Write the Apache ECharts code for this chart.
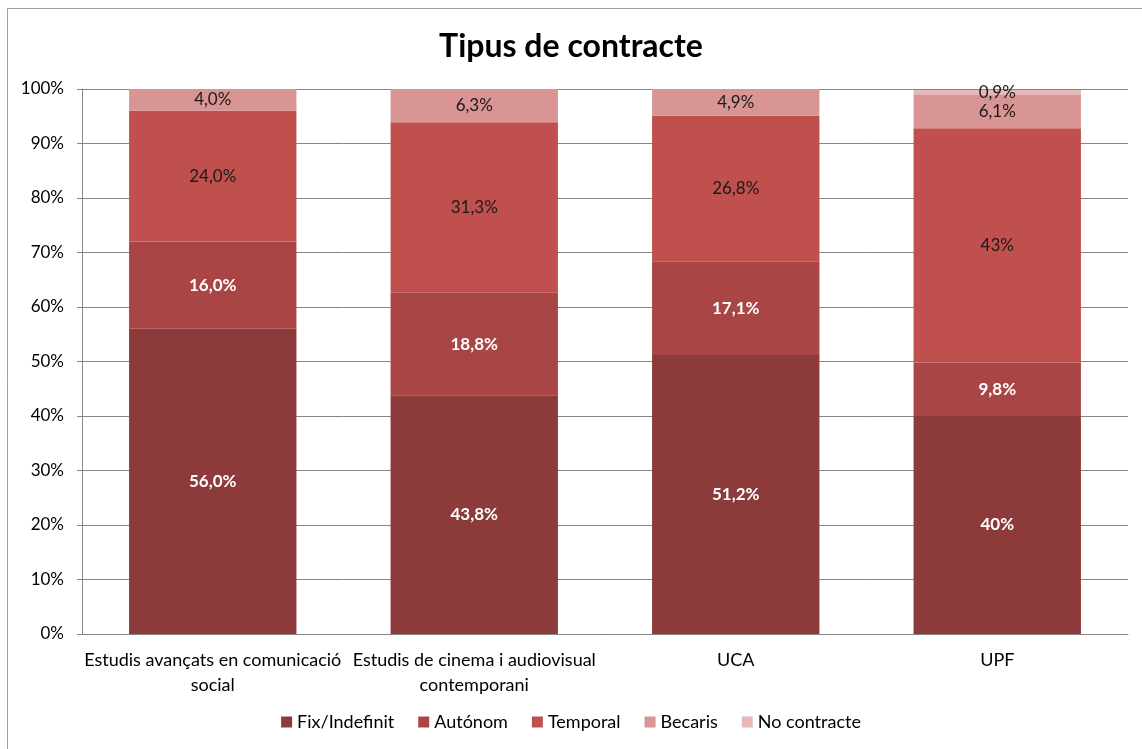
<!DOCTYPE html>
<html>
<head>
<meta charset="utf-8">
<script src="https://cdn.jsdelivr.net/npm/echarts@6/dist/echarts.min.js"></script>
<style>
  html, body { margin: 0; padding: 0; background: #fff; }
  #main { width: 1142px; height: 749px; }
</style>
</head>
<body>
<div id="main"></div>
<script>
// dades del gràfic
var categories = ['Estudis avançats en comunicació\nsocial', 'Estudis de cinema i audiovisual\ncontemporani', 'UCA', 'UPF'];
var seriesNames = ['Fix/Indefinit', 'Autónom', 'Temporal', 'Becaris', 'No contracte'];
var fixValues = [56.0, 43.8, 51.2, 40];
var autonomValues = [16.0, 18.8, 17.1, 9.8];
var temporalValues = [24.0, 31.3, 26.8, 43];
var becarisValues = [4.0, 6.3, 4.9, 6.1];
var noContracteValues = [0, 0, 0, 0.9];
var fixLabels = ['56,0%', '43,8%', '51,2%', '40%'];
var autonomLabels = ['16,0%', '18,8%', '17,1%', '9,8%'];
var temporalLabels = ['24,0%', '31,3%', '26,8%', '43%'];
var becarisLabels = ['4,0%', '6,3%', '4,9%', '6,1%'];
var noContracteLabels = ['', '', '', '0,9%'];
var yTicks = [0, 10, 20, 30, 40, 50, 60, 70, 80, 90, 100];

var font = 'Lato, "Open Sans", sans-serif';
var colors = ['#8C3A3A', '#A94545', '#C0504D', '#D99594', '#E6B9B8'];

function serie(idx, values, labels, labelColor, bold) {
    return {
        name: seriesNames[idx],
        type: 'bar',
        stack: 'total',
        barCategoryGap: '36%',
        data: values,
        itemStyle: { color: colors[idx] },
        label: {
            show: true,
            position: 'inside',
            color: labelColor,
            fontFamily: font,
            fontSize: 17,
            fontWeight: bold ? 'bold' : 'normal',
            formatter: function (p) { return labels[p.dataIndex]; }
        }
    };
}

var myChart = echarts.init(document.getElementById('main'));

var option = {
    animation: false,
    title: {
        text: 'Tipus de contracte',
        left: 'center',
        top: 26,
        textStyle: { fontFamily: font, fontSize: 32, fontWeight: 'bold', color: '#000' }
    },
    legend: {
        data: seriesNames,
        bottom: 13,
        left: 'center',
        icon: 'rect',
        itemWidth: 11,
        itemHeight: 11,
        itemGap: 24,
        textStyle: { fontFamily: font, fontSize: 18, color: '#000' }
    },
    grid: { left: 82, right: 14, top: 89, bottom: 115 },
    xAxis: {
        type: 'category',
        data: categories,
        axisLine: { lineStyle: { color: '#868686' } },
        axisTick: { show: false },
        axisLabel: { fontFamily: font, fontSize: 18, color: '#000', margin: 14, lineHeight: 25, interval: 0 }
    },
    yAxis: {
        type: 'value',
        min: yTicks[0],
        max: yTicks[yTicks.length - 1],
        interval: 10,
        axisLine: { show: true, lineStyle: { color: '#868686' } },
        axisTick: { show: true, length: 5, lineStyle: { color: '#868686' } },
        splitLine: { lineStyle: { color: '#868686' } },
        axisLabel: { fontFamily: font, fontSize: 17, color: '#000', margin: 18, formatter: '{value}%' }
    },
    series: [
        serie(0, fixValues, fixLabels, '#fff', true),
        serie(1, autonomValues, autonomLabels, '#fff', true),
        serie(2, temporalValues, temporalLabels, '#1a1a1a', false),
        serie(3, becarisValues, becarisLabels, '#1a1a1a', false),
        serie(4, noContracteValues, noContracteLabels, '#1a1a1a', false)
    ],
    graphic: [{
        type: 'rect',
        shape: { x: 7.5, y: 8.5, width: 1150, height: 760 },
        style: { fill: null, stroke: '#A0A0A0', lineWidth: 1 },
        silent: true
    }]
};

myChart.setOption(option);
</script>
</body>
</html>
